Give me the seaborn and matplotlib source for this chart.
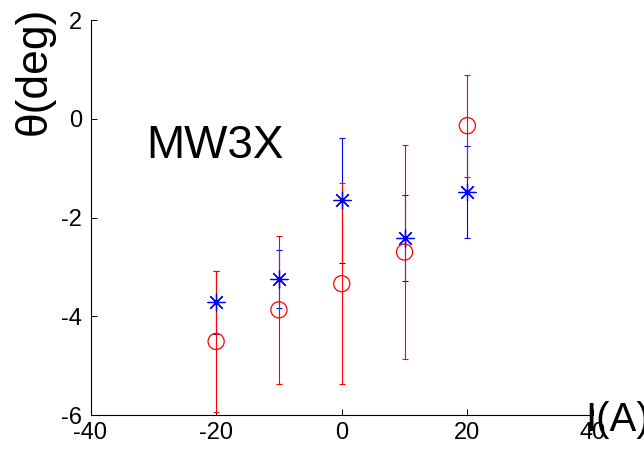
import matplotlib
matplotlib.use("Agg")
import matplotlib.pyplot as plt
import seaborn as sns
import pandas as pd

# Data
current = [-20, -10, 0, 10, 20]
theta_red = [-4.51, -3.87, -3.34, -2.70, -0.14]
err_red = [1.43, 1.50, 2.04, 2.16, 1.03]
theta_blue = [-3.72, -3.24, -1.65, -2.42, -1.49]
err_blue = [0.64, 0.59, 1.27, 0.87, 0.93]
xticks = [-40, -20, 0, 20, 40]
yticks = [-6, -4, -2, 0, 2]

sns.set_style("ticks")
plt.rcParams['font.family'] = ['Liberation Sans', 'DejaVu Sans']

fig = plt.figure(figsize=(6.44, 4.5), dpi=100)
ax = fig.add_axes([90.5 / 644, 35 / 450, (593 - 90.5) / 644, (415 - 20) / 450])

df_red = pd.DataFrame({"I": current, "theta": theta_red})
df_blue = pd.DataFrame({"I": current, "theta": theta_blue})

# error bars
ax.errorbar(current, theta_blue, yerr=err_blue, fmt='none', ecolor=(0, 0, 1),
            elinewidth=0.8, capsize=2.5, capthick=0.8, zorder=2)
ax.errorbar(current, theta_red, yerr=err_red, fmt='none', ecolor=(1, 0, 0),
            elinewidth=0.8, capsize=2.5, capthick=0.8, zorder=2)

# asterisk marker (MATLAB '*')
sns.scatterplot(data=df_blue, x="I", y="theta", ax=ax, marker=(8, 2, 0), s=150,
                color=(0, 0, 1), linewidth=0.9, zorder=3, legend=False)
sns.scatterplot(data=df_red, x="I", y="theta", ax=ax, marker='o', s=135,
                facecolor='none', edgecolor=(1, 0, 0), linewidth=0.9, zorder=3, legend=False)

ax.set_xlim(-40, 40)
ax.set_ylim(-6, 2)
ax.set_xticks(xticks)
ax.set_yticks(yticks)
ax.set_xticklabels([str(t) for t in xticks])
ax.set_yticklabels([str(t) for t in yticks])
ax.tick_params(direction='in', length=4, width=0.7, labelsize=17, color='black', labelcolor='black')
ax.tick_params(axis='y', pad=6)
ax.tick_params(axis='x', pad=5)
for s in ['top', 'right']:
    ax.spines[s].set_visible(False)
for s in ['left', 'bottom']:
    ax.spines[s].set_color('black')
    ax.spines[s].set_linewidth(0.8)

ax.set_xlabel("")
ax.set_ylabel("")
ax.text(-0.1124, 0.871, "θ(deg)", transform=ax.transAxes, rotation=90,
        ha='center', va='center', fontsize=32, color='black')
ax.text(0.985, -0.0127, "I(A)", transform=ax.transAxes, ha='left', va='center',
        fontsize=29, color='black')
ax.text(0.110, 0.651, "MW3X", transform=ax.transAxes, ha='left', va='baseline',
        fontsize=33, color='black')

fig.savefig("out.png", dpi=100)
